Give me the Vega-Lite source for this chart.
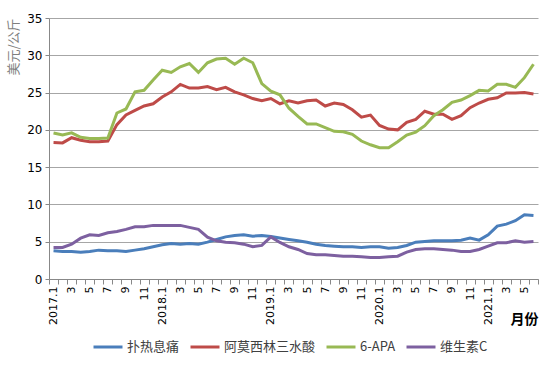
{
  "$schema": "https://vega.github.io/schema/vega-lite/v6.json",
  "width": 489,
  "height": 261,
  "padding": {"left": 7, "top": 12, "right": 8, "bottom": 5},
  "background": "white",
  "config": {"view": {"stroke": null}, "font": "DejaVu Sans"},
  "data": {"values": [
    {"month": "2017.1", "扑热息痛": 3.78, "阿莫西林三水酸": 18.3, "6-APA": 19.57, "维生素C": 4.23},
    {"month": "2017.2", "扑热息痛": 3.69, "阿莫西林三水酸": 18.25, "6-APA": 19.3, "维生素C": 4.23},
    {"month": "2017.3", "扑热息痛": 3.69, "阿莫西林三水酸": 18.95, "6-APA": 19.6, "维生素C": 4.67},
    {"month": "2017.4", "扑热息痛": 3.6, "阿莫西林三水酸": 18.6, "6-APA": 19.0, "维生素C": 5.48},
    {"month": "2017.5", "扑热息痛": 3.69, "阿莫西林三水酸": 18.4, "6-APA": 18.85, "维生素C": 5.93},
    {"month": "2017.6", "扑热息痛": 3.87, "阿莫西林三水酸": 18.4, "6-APA": 18.85, "维生素C": 5.84},
    {"month": "2017.7", "扑热息痛": 3.78, "阿莫西林三水酸": 18.5, "6-APA": 18.9, "维生素C": 6.2},
    {"month": "2017.8", "扑热息痛": 3.78, "阿莫西林三水酸": 20.7, "6-APA": 22.26, "维生素C": 6.38},
    {"month": "2017.9", "扑热息痛": 3.69, "阿莫西林三水酸": 22.0, "6-APA": 22.8, "维生素C": 6.65},
    {"month": "2017.10", "扑热息痛": 3.87, "阿莫西林三水酸": 22.6, "6-APA": 25.1, "维生素C": 7.0},
    {"month": "2017.11", "扑热息痛": 4.05, "阿莫西林三水酸": 23.2, "6-APA": 25.3, "维生素C": 7.0},
    {"month": "2017.12", "扑热息痛": 4.32, "阿莫西林三水酸": 23.5, "6-APA": 26.7, "维生素C": 7.19},
    {"month": "2018.1", "扑热息痛": 4.59, "阿莫西林三水酸": 24.4, "6-APA": 28.0, "维生素C": 7.19},
    {"month": "2018.2", "扑热息痛": 4.76, "阿莫西林三水酸": 25.1, "6-APA": 27.7, "维生素C": 7.19},
    {"month": "2018.3", "扑热息痛": 4.67, "阿莫西林三水酸": 26.1, "6-APA": 28.45, "维生素C": 7.19},
    {"month": "2018.4", "扑热息痛": 4.76, "阿莫西林三水酸": 25.6, "6-APA": 28.9, "维生素C": 6.92},
    {"month": "2018.5", "扑热息痛": 4.67, "阿莫西林三水酸": 25.6, "6-APA": 27.7, "维生素C": 6.65},
    {"month": "2018.6", "扑热息痛": 4.94, "阿莫西林三水酸": 25.8, "6-APA": 29.0, "维生素C": 5.6},
    {"month": "2018.7", "扑热息痛": 5.3, "阿莫西林三水酸": 25.4, "6-APA": 29.5, "维生素C": 5.12},
    {"month": "2018.8", "扑热息痛": 5.65, "阿莫西林三水酸": 25.7, "6-APA": 29.6, "维生素C": 4.94},
    {"month": "2018.9", "扑热息痛": 5.84, "阿莫西林三水酸": 25.1, "6-APA": 28.8, "维生素C": 4.86},
    {"month": "2018.10", "扑热息痛": 5.93, "阿莫西林三水酸": 24.7, "6-APA": 29.6, "维生素C": 4.67},
    {"month": "2018.11", "扑热息痛": 5.75, "阿莫西林三水酸": 24.2, "6-APA": 29.0, "维生素C": 4.32},
    {"month": "2018.12", "扑热息痛": 5.84, "阿莫西林三水酸": 23.9, "6-APA": 26.2, "维生素C": 4.5},
    {"month": "2019.1", "扑热息痛": 5.7, "阿莫西林三水酸": 24.2, "6-APA": 25.2, "维生素C": 5.65},
    {"month": "2019.2", "扑热息痛": 5.5, "阿莫西林三水酸": 23.5, "6-APA": 24.7, "维生素C": 4.9},
    {"month": "2019.3", "扑热息痛": 5.3, "阿莫西林三水酸": 23.9, "6-APA": 22.9, "维生素C": 4.32},
    {"month": "2019.4", "扑热息痛": 5.12, "阿莫西林三水酸": 23.6, "6-APA": 21.8, "维生素C": 3.96},
    {"month": "2019.5", "扑热息痛": 4.94, "阿莫西林三水酸": 23.9, "6-APA": 20.8, "维生素C": 3.42},
    {"month": "2019.6", "扑热息痛": 4.67, "阿莫西林三水酸": 24.0, "6-APA": 20.8, "维生素C": 3.24},
    {"month": "2019.7", "扑热息痛": 4.5, "阿莫西林三水酸": 23.2, "6-APA": 20.3, "维生素C": 3.24},
    {"month": "2019.8", "扑热息痛": 4.4, "阿莫西林三水酸": 23.6, "6-APA": 19.8, "维生素C": 3.15},
    {"month": "2019.9", "扑热息痛": 4.32, "阿莫西林三水酸": 23.4, "6-APA": 19.75, "维生素C": 3.06},
    {"month": "2019.10", "扑热息痛": 4.32, "阿莫西林三水酸": 22.7, "6-APA": 19.4, "维生素C": 3.06},
    {"month": "2019.11", "扑热息痛": 4.23, "阿莫西林三水酸": 21.7, "6-APA": 18.5, "维生素C": 2.97},
    {"month": "2019.12", "扑热息痛": 4.32, "阿莫西林三水酸": 21.98, "6-APA": 18.0, "维生素C": 2.88},
    {"month": "2020.1", "扑热息痛": 4.32, "阿莫西林三水酸": 20.6, "6-APA": 17.6, "维生素C": 2.88},
    {"month": "2020.2", "扑热息痛": 4.13, "阿莫西林三水酸": 20.1, "6-APA": 17.6, "维生素C": 2.97},
    {"month": "2020.3", "扑热息痛": 4.23, "阿莫西林三水酸": 20.0, "6-APA": 18.4, "维生素C": 3.06},
    {"month": "2020.4", "扑热息痛": 4.5, "阿莫西林三水酸": 21.0, "6-APA": 19.3, "维生素C": 3.6},
    {"month": "2020.5", "扑热息痛": 4.94, "阿莫西林三水酸": 21.4, "6-APA": 19.7, "维生素C": 3.96},
    {"month": "2020.6", "扑热息痛": 5.03, "阿莫西林三水酸": 22.5, "6-APA": 20.56, "维生素C": 4.05},
    {"month": "2020.7", "扑热息痛": 5.12, "阿莫西林三水酸": 22.1, "6-APA": 21.9, "维生素C": 4.05},
    {"month": "2020.8", "扑热息痛": 5.12, "阿莫西林三水酸": 22.1, "6-APA": 22.7, "维生素C": 3.96},
    {"month": "2020.9", "扑热息痛": 5.12, "阿莫西林三水酸": 21.4, "6-APA": 23.7, "维生素C": 3.87},
    {"month": "2020.10", "扑热息痛": 5.21, "阿莫西林三水酸": 21.9, "6-APA": 24.0, "维生素C": 3.69},
    {"month": "2020.11", "扑热息痛": 5.48, "阿莫西林三水酸": 22.98, "6-APA": 24.6, "维生素C": 3.69},
    {"month": "2020.12", "扑热息痛": 5.21, "阿莫西林三水酸": 23.6, "6-APA": 25.3, "维生素C": 3.96},
    {"month": "2021.1", "扑热息痛": 5.93, "阿莫西林三水酸": 24.1, "6-APA": 25.2, "维生素C": 4.4},
    {"month": "2021.2", "扑热息痛": 7.09, "阿莫西林三水酸": 24.3, "6-APA": 26.1, "维生素C": 4.86},
    {"month": "2021.3", "扑热息痛": 7.36, "阿莫西林三水酸": 24.95, "6-APA": 26.1, "维生素C": 4.86},
    {"month": "2021.4", "扑热息痛": 7.81, "阿莫西林三水酸": 24.95, "6-APA": 25.7, "维生素C": 5.12},
    {"month": "2021.5", "扑热息痛": 8.62, "阿莫西林三水酸": 25.0, "6-APA": 27.0, "维生素C": 4.94},
    {"month": "2021.6", "扑热息痛": 8.53, "阿莫西林三水酸": 24.8, "6-APA": 28.8, "维生素C": 5.03}
  ]},
  "transform": [
    {"fold": ["扑热息痛", "阿莫西林三水酸", "6-APA", "维生素C"], "as": ["series", "value"]}
  ],
  "mark": {"type": "line", "strokeWidth": 3},
  "encoding": {
    "x": {
      "field": "month",
      "type": "ordinal",
      "sort": null,
      "bandPosition": 0.5,
      "scale": {"type": "band", "paddingInner": 0, "paddingOuter": 0},
      "axis": {
        "title": "月份",
        "titleAnchor": "end",
        "titleFont": "Noto Sans CJK SC",
        "titleFontSize": 14,
        "titleFontWeight": "bold",
        "titleColor": "#000000",
        "titlePadding": -12,
        "labelAngle": 270,
        "labelExpr": "toNumber(split(datum.value, '.')[1]) == 1 ? datum.value : (toNumber(split(datum.value, '.')[1]) % 2 == 1 ? split(datum.value, '.')[1] : '')",
        "labelOverlap": false,
        "labelFontSize": 11,
        "labelColor": "#000000",
        "labelPadding": 2,
        "tickBand": "extent",
        "tickSize": 5,
        "tickColor": "#888888",
        "domainColor": "#888888",
        "grid": false
      }
    },
    "y": {
      "field": "value",
      "type": "quantitative",
      "scale": {"domain": [0, 35]},
      "axis": {
        "title": "美元/公斤",
        "titleAnchor": "end",
        "titleFont": "Noto Sans CJK SC",
        "titleFontSize": 13,
        "titleFontWeight": "normal",
        "titleColor": "#7f7f7f",
        "titlePadding": 6,
        "values": [0, 5, 10, 15, 20, 25, 30, 35],
        "gridColor": "#a6a6a6",
        "domainColor": "#888888",
        "tickColor": "#888888",
        "tickSize": 4,
        "labelFontSize": 12,
        "labelColor": "#000000",
        "labelPadding": 3
      }
    },
    "color": {
      "field": "series",
      "type": "nominal",
      "sort": ["扑热息痛", "阿莫西林三水酸", "6-APA", "维生素C"],
      "scale": {
        "domain": ["扑热息痛", "阿莫西林三水酸", "6-APA", "维生素C"],
        "range": ["#4a7ebb", "#be4b48", "#98b954", "#7d60a0"]
      },
      "legend": {
        "title": null,
        "orient": "none",
        "legendX": 43,
        "legendY": 313,
        "direction": "horizontal",
        "symbolType": "stroke",
        "symbolSize": 841,
        "symbolStrokeWidth": 3,
        "labelFont": "Noto Sans CJK SC",
        "labelFontSize": 13,
        "labelColor": "#404040",
        "columnPadding": 4,
        "labelOffset": 3
      }
    }
  }
}
